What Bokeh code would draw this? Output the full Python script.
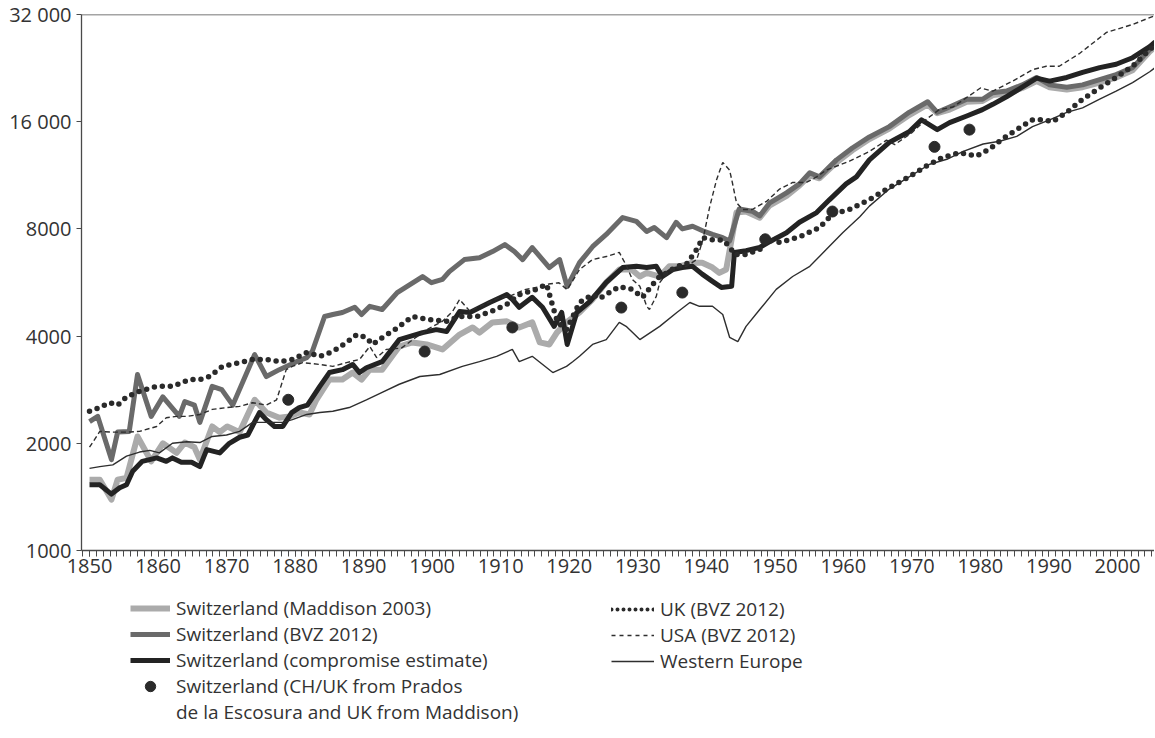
from bokeh.plotting import figure
from bokeh.layouts import column
from bokeh.models import Range1d, FixedTicker, Legend, LegendItem, Span
from bokeh.embed import file_html
from bokeh.resources import INLINE

# ---------------- data ----------------
years_bvz = [1850.0,1851.2,1853.2,1854.1,1855.8,1857.0,1859.0,1860.7,1863.1,1863.9,1865.3,1866.1,1867.9,1869.3,1870.9,1874.1,1875.8,1877.7,1880.2,1881.7,1882.5,1884.3,1885.5,1886.9,1888.7,1889.7,1890.9,1892.7,1894.9,1898.6,1899.9,1901.5,1902.5,1904.7,1906.9,1908.8,1910.6,1912.0,1913.2,1914.6,1916.1,1917.1,1918.6,1919.7,1921.5,1923.4,1925.4,1927.8,1929.8,1931.3,1932.4,1934.2,1935.6,1936.5,1938.0,1939.7,1940.9,1942.4,1943.4,1944.8,1946.7,1947.8,1949.2,1951.7,1953.6,1955.1,1956.5,1959.0,1961.3,1963.8,1966.7,1969.6,1972.3,1973.7,1975.5,1978.0,1980.3,1981.8,1983.8,1986.1,1988.2,1990.1,1992.6,1994.9,1997.4,1999.8,2002.2,2004.7,2005.5]
ch_bvz = [2300,2380,1800,2150,2160,3120,2380,2700,2380,2620,2560,2290,2890,2830,2560,3550,3080,3220,3390,3480,3620,4540,4600,4660,4820,4600,4850,4750,5300,5880,5650,5770,6070,6560,6640,6910,7230,6910,6560,7090,6560,6230,6560,5510,6430,7130,7720,8610,8400,7870,8070,7560,8350,8000,8140,7870,7720,7560,7400,9100,8970,8700,9450,10100,10700,11500,11200,12500,13500,14500,15500,17000,18200,17000,17600,18500,18500,19300,19500,20300,21300,20300,20000,20300,21000,21700,22700,25500,26300]

years_cmp = [1850.0,1851.5,1853.2,1854.4,1855.4,1856.3,1857.7,1859.8,1861.2,1862.1,1863.4,1864.9,1866.1,1867.1,1869.0,1870.4,1871.9,1873.1,1874.8,1875.8,1877.0,1878.2,1879.5,1880.6,1881.8,1883.6,1885.0,1886.9,1888.4,1889.4,1890.4,1892.7,1895.2,1898.6,1900.6,1902.1,1904.0,1905.5,1908.4,1910.9,1911.7,1912.7,1914.6,1916.1,1917.8,1918.9,1919.7,1921.1,1923.0,1925.4,1927.8,1929.8,1931.3,1932.7,1933.6,1935.1,1936.5,1938.0,1939.4,1940.9,1942.2,1943.7,1944.1,1945.8,1947.8,1949.7,1951.7,1953.6,1956.1,1958.0,1960.4,1961.9,1963.8,1966.7,1969.6,1971.4,1973.0,1973.7,1975.5,1978.0,1980.3,1981.8,1983.8,1986.1,1988.2,1990.1,1992.6,1994.9,1997.4,1999.8,2002.2,2004.7,2005.5]
ch_cmp = [1530,1530,1440,1500,1530,1670,1780,1820,1780,1820,1770,1770,1720,1920,1880,2000,2080,2110,2440,2330,2230,2230,2440,2520,2560,2890,3160,3220,3330,3160,3260,3390,3910,4090,4170,4120,4690,4660,4970,5230,5070,4820,5140,4820,4260,4660,3790,4660,5000,5660,6230,6280,6230,6280,5880,6150,6230,6280,5970,5700,5480,5520,6870,6950,7100,7450,7800,8350,8890,9670,10700,11200,12500,14000,15000,16200,15500,15200,15900,16600,17300,17900,18800,20000,21200,20800,21300,22000,22700,23200,24200,26000,26800]

years_mad = [1850.0,1851.5,1853.2,1854.1,1855.4,1857.0,1859.0,1860.7,1862.7,1863.9,1865.3,1866.1,1867.9,1869.0,1870.1,1871.9,1874.1,1875.8,1877.7,1879.2,1880.6,1882.1,1883.1,1885.0,1886.9,1888.4,1889.7,1890.9,1892.7,1895.2,1897.1,1899.2,1901.5,1904.0,1905.9,1906.9,1908.8,1910.9,1912.7,1914.6,1915.7,1917.1,1918.2,1919.6,1921.5,1923.4,1925.4,1927.3,1929.1,1930.3,1931.3,1933.2,1934.6,1936.1,1938.0,1939.4,1940.9,1941.9,1942.9,1944.4,1945.8,1947.8,1949.2,1951.7,1953.6,1955.1,1956.5,1959.0,1961.3,1963.8,1966.7,1969.6,1972.3,1973.7,1975.5,1978.0,1980.3,1981.8,1983.8,1986.1,1988.2,1990.1,1992.6,1994.9,1997.4,1999.8,2002.2,2004.7,2005.5]
ch_mad = [1580,1580,1390,1580,1600,2090,1780,2000,1880,2010,1950,1800,2230,2150,2230,2150,2650,2440,2360,2380,2440,2410,2650,3020,3020,3160,3020,3220,3220,3740,3840,3790,3670,4040,4230,4090,4370,4400,4230,4370,3840,3790,4090,4370,4660,5070,5660,6150,6150,5880,6020,5880,6280,6280,6430,6430,6230,6020,6150,8890,8950,8600,9300,9900,10600,11300,11100,12300,13300,14300,15300,16700,17900,16900,17300,18200,18300,19000,19200,19900,20800,20000,19700,20000,20600,21300,22300,25200,26000]

years_uk = [1850.0,1851.5,1852.9,1854.1,1855.4,1857.3,1859.8,1862.1,1864.6,1866.1,1867.5,1869.4,1871.9,1873.8,1875.8,1877.7,1879.6,1881.7,1883.6,1885.5,1887.5,1889.0,1890.4,1891.3,1892.7,1894.8,1897.1,1899.6,1902.1,1904.0,1906.5,1908.8,1910.9,1912.7,1915.2,1916.7,1917.6,1918.3,1919.6,1921.5,1923.4,1924.4,1927.3,1929.2,1930.7,1932.2,1933.2,1934.2,1935.7,1937.1,1938.6,1939.5,1940.9,1942.4,1943.4,1944.1,1945.8,1947.8,1948.8,1950.7,1953.6,1956.5,1958.4,1960.9,1963.8,1966.7,1969.6,1972.1,1974.5,1977.0,1979.4,1981.3,1983.2,1985.3,1987.6,1989.1,1990.5,1992.6,1994.9,1997.4,1999.8,2002.2,2004.7,2005.5]
uk = [2460,2520,2600,2560,2700,2800,2890,2890,3020,3020,3080,3290,3370,3440,3440,3390,3440,3600,3510,3620,3840,4040,3960,3790,3960,4200,4540,4450,4400,4540,4540,4710,4910,5230,5410,5590,4850,4370,4170,4970,5230,5100,5510,5410,5140,5590,5880,6020,6280,6370,7000,7560,7450,7450,7140,6780,6780,7000,7450,7330,7600,8070,8800,9070,9670,10450,11200,12000,12700,13100,12800,13400,14300,15200,16200,16200,16000,17000,18500,19900,21300,22900,25500,26300]

years_usa = [1850.0,1851.5,1853.4,1855.4,1857.3,1859.8,1861.2,1862.7,1864.2,1866.1,1867.9,1870.0,1871.9,1873.8,1875.8,1877.3,1878.7,1879.6,1881.1,1883.6,1885.5,1887.5,1889.4,1890.9,1891.9,1893.3,1895.5,1897.5,1899.5,1901.5,1903.0,1904.0,1905.5,1907.5,1909.5,1911.5,1913.5,1915.5,1917.0,1918.5,1919.7,1921.5,1923.4,1925.4,1927.3,1928.4,1929.2,1930.3,1931.3,1931.7,1932.7,1933.2,1934.6,1937.1,1938.6,1939.5,1940.5,1941.5,1942.4,1943.4,1943.8,1944.4,1945.3,1946.7,1948.8,1950.7,1952.6,1954.6,1956.1,1957.5,1960.9,1963.8,1966.3,1967.5,1970.0,1972.0,1974.0,1976.0,1978.5,1980.0,1981.8,1984.7,1987.6,1989.6,1991.5,1994.5,1998.4,2002.2,2005.5]
usa = [1950,2160,2150,2150,2160,2230,2360,2380,2380,2410,2490,2520,2540,2600,2560,2650,3220,3290,3370,3330,3290,3370,3440,3740,3480,3670,3700,3950,4200,4400,4700,5070,4700,4900,5100,5200,5400,5500,5600,5650,5400,6150,6560,6690,6870,6280,5770,5520,4850,4750,5170,5650,6150,6280,6560,7450,9240,11000,12300,11700,10800,9480,9070,9070,9560,10350,10800,10800,11200,11700,12400,13200,14200,13800,14900,16200,17300,17600,19000,19900,19500,20800,22400,22900,22900,24900,28500,30000,31800]

years_we = [1850.0,1851.5,1853.4,1855.4,1857.3,1858.8,1860.2,1862.1,1864.2,1866.1,1867.9,1870.0,1871.9,1873.8,1875.8,1878.2,1879.6,1881.7,1883.6,1885.5,1887.9,1890.4,1892.7,1895.2,1898.2,1901.1,1904.4,1906.9,1909.4,1911.7,1912.7,1914.6,1917.6,1919.6,1920.5,1921.5,1923.4,1925.4,1927.3,1928.3,1930.3,1933.2,1935.7,1937.6,1939.0,1940.9,1942.4,1943.4,1944.6,1945.8,1947.8,1950.2,1952.6,1955.1,1957.5,1959.9,1962.4,1963.8,1966.7,1969.6,1972.6,1975.1,1977.5,1980.4,1982.8,1985.3,1987.6,1990.1,1992.6,1994.9,1997.4,1999.8,2002.2,2004.7,2005.5]
w_europe = [1700,1720,1740,1840,1890,1910,1880,2000,2020,2010,2090,2110,2160,2290,2290,2290,2330,2410,2440,2460,2520,2650,2780,2930,3080,3120,3290,3390,3510,3670,3390,3510,3160,3290,3390,3510,3790,3910,4370,4260,3910,4260,4660,4970,4850,4850,4600,3970,3860,4260,4750,5410,5880,6280,7000,7800,8650,9270,10350,11200,12150,12550,13200,13850,14100,14550,15500,16200,17000,17500,18500,19500,20600,22100,22700]

dot_years = [1879.0, 1898.9, 1911.7, 1927.6, 1936.5, 1948.6, 1958.4, 1973.3, 1978.4]
dot_vals = [2650, 3620, 4230, 4810, 5300, 7480, 8950, 13600, 15200]

y_ticks = [1000, 2000, 4000, 8000, 16000, 32000]
y_tick_labels = ["1000", "2000", "4000", "8000", "16 000", "32 000"]
x_major = list(range(1850, 2001, 10))
x_minor = list(range(1849, 2006))

labels_left = ["Switzerland (Maddison 2003)", "Switzerland (BVZ 2012)",
               "Switzerland (compromise estimate)", "Switzerland (CH/UK from Prados",
               "de la Escosura and UK from Maddison)"]
labels_right = ["UK (BVZ 2012)", "USA (BVZ 2012)", "Western Europe"]

# ---------------- styling ----------------
FONT = "Open Sans"
TXT = "#333333"
AX = "#4a4a4a"
W = 1154

STY = {
    "mad": dict(line_color="#ababab", line_width=6, line_join="round"),
    "bvz": dict(line_color="#6a6a6a", line_width=5, line_join="round"),
    "cmp": dict(line_color="#232323", line_width=5, line_join="round"),
    "we": dict(line_color="#2e2e2e", line_width=1.4),
    "usa": dict(line_color="#2e2e2e", line_width=1.4, line_dash="5 3"),
    "uk": dict(line_color="#2a2a2a", line_width=5.5, line_dash="0 8", line_cap="round"),
}

p = figure(width=W, height=585,
           x_range=Range1d(1848.83, 2005.4), y_range=Range1d(y_ticks[0], y_ticks[-1]),
           y_axis_type="log", output_backend="svg", toolbar_location=None,
           min_border_left=81, min_border_right=0, min_border_top=14, min_border_bottom=35)
p.grid.visible = False
p.outline_line_color = None

p.yaxis.ticker = FixedTicker(ticks=y_ticks)
p.yaxis.major_label_overrides = {t: l for t, l in zip(y_ticks, y_tick_labels)}
p.xaxis.ticker = FixedTicker(ticks=x_major, minor_ticks=x_minor)
for ax in (p.xaxis[0], p.yaxis[0]):
    ax.axis_line_color = AX
    ax.axis_line_width = 1.3
    ax.major_tick_line_color = AX
    ax.minor_tick_line_color = AX
    ax.major_tick_in = 0
    ax.minor_tick_in = 0
    ax.major_label_text_font = FONT
    ax.major_label_text_font_size = "20px"
    ax.major_label_text_color = TXT
p.xaxis.major_tick_out = 6
p.xaxis.minor_tick_out = 6
p.xaxis.major_label_standoff = 2
p.yaxis.major_tick_out = 5
p.yaxis.minor_tick_line_color = None
p.yaxis.major_label_standoff = 5

p.add_layout(Span(location=p.y_range.end, dimension="width", line_color=AX, line_width=1.3))

p.line(years_mad, ch_mad, **STY["mad"])
p.line(years_bvz, ch_bvz, **STY["bvz"])
p.line(years_cmp, ch_cmp, **STY["cmp"])
p.line(years_we, w_europe, **STY["we"])
p.line(years_usa, usa, **STY["usa"])
p.line(years_uk, uk, **STY["uk"])
p.scatter(dot_years, dot_vals, size=11, color="#2a2a2a")

# ---------------- legend panel (same series, drawn off-range; only legend shows) ----------------
LH = 152
q = figure(width=W, height=LH, x_range=Range1d(0, 1), y_range=Range1d(0, 1),
           x_axis_type=None, y_axis_type=None, output_backend="svg", toolbar_location=None,
           min_border=0)
q.grid.visible = False
q.outline_line_color = None

l_mad = q.line(years_mad, ch_mad, **STY["mad"])
l_bvz = q.line(years_bvz, ch_bvz, **STY["bvz"])
l_cmp = q.line(years_cmp, ch_cmp, **STY["cmp"])
l_dot = q.scatter(dot_years, dot_vals, size=8, color="#2a2a2a")
l_blank = q.scatter(dot_years, dot_vals, size=1, fill_alpha=0, line_alpha=0)
l_uk = q.line(years_uk, uk, line_color="#2a2a2a", line_width=4, line_dash="0 6", line_cap="round")
l_usa = q.line(years_usa, usa, line_color="#2e2e2e", line_width=1.4, line_dash="4 4")
l_we = q.line(years_we, w_europe, **STY["we"])

IH = 26
SP = -2
H_REAL = 27.5          # rendered item height for this font size
common = dict(padding=0, margin=0, border_line_color=None, background_fill_alpha=0,
              label_text_font=FONT, label_text_font_size="19px", label_text_color=TXT,
              glyph_height=IH, label_height=IH, spacing=SP, label_standoff=6)
top_off = 10.25
h1 = 5 * H_REAL + 4 * SP
h2 = 3 * H_REAL + 2 * SP

leg1 = Legend(items=[LegendItem(label=labels_left[0], renderers=[l_mad]),
                     LegendItem(label=labels_left[1], renderers=[l_bvz]),
                     LegendItem(label=labels_left[2], renderers=[l_cmp]),
                     LegendItem(label=labels_left[3], renderers=[l_dot]),
                     LegendItem(label=labels_left[4], renderers=[l_blank])],
              location=(49, LH - top_off - h1), glyph_width=40, **common)
leg2 = Legend(items=[LegendItem(label=labels_right[0], renderers=[l_uk]),
                     LegendItem(label=labels_right[1], renderers=[l_usa]),
                     LegendItem(label=labels_right[2], renderers=[l_we])],
              location=(530, LH - top_off - h2), glyph_width=43, **common)
q.add_layout(leg1)
q.add_layout(leg2)

layout = column(p, q, spacing=0)
open("out.html", "w").write(file_html(layout, INLINE))
